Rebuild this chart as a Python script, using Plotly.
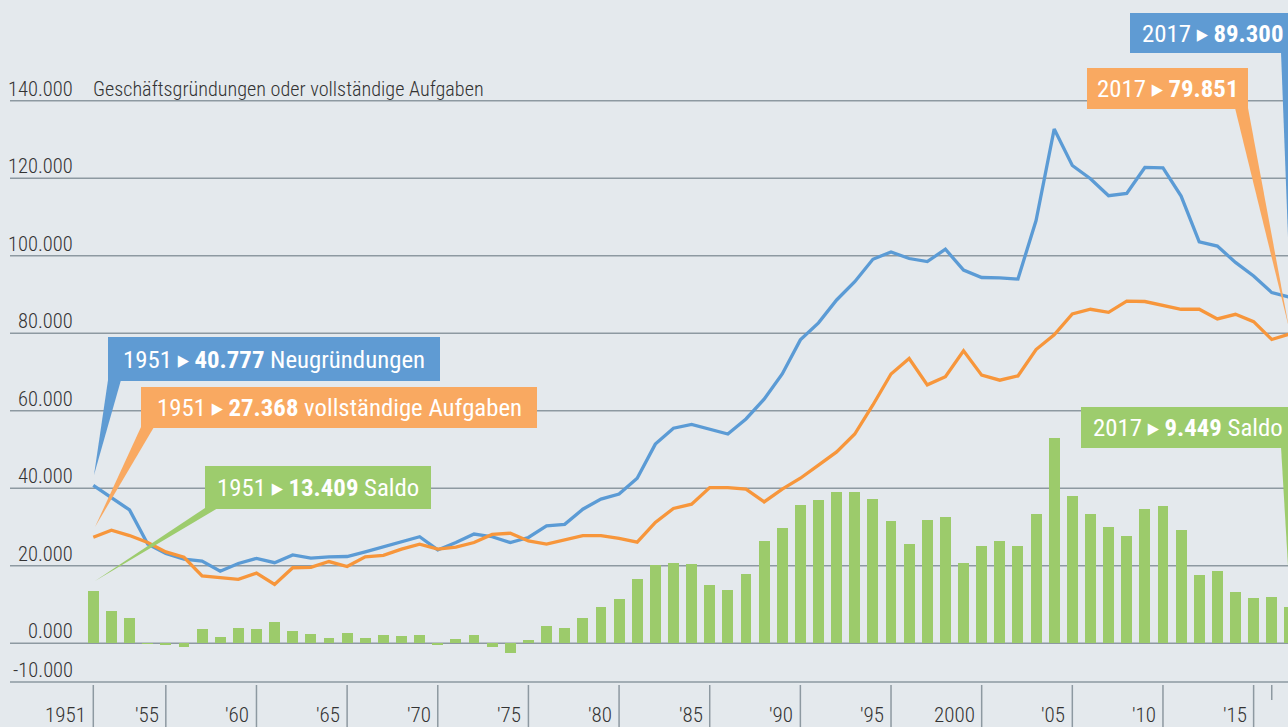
import plotly.graph_objects as go

# ---------------- data ----------------
years = list(range(1951, 2018))

neugruendungen = [
    40777, 37700, 34400, 25600, 23200, 21700, 21200, 18600, 20600, 21900,
    20800, 22800, 22000, 22300, 22400, 23600, 24900, 26300, 27500, 24100,
    26000, 28200, 27500, 26000, 27300, 30300, 30700, 34600, 37200, 38500,
    42600, 51400, 55500, 56500, 55300, 54000, 57900, 63000, 69500, 78300,
    82700, 88600, 93300, 99100, 101000, 99300, 98500, 101700, 96300, 94400,
    94300, 94000, 109100, 132700, 123300, 119900, 115500, 116100, 122800, 122700,
    115400, 103600, 102500, 98300, 94800, 90500, 89300,
]

aufgaben = [
    27368, 29200, 27800, 26000, 23600, 22200, 17400, 16900, 16500, 18100,
    15200, 19500, 19600, 21100, 19800, 22300, 22700, 24300, 25600, 24300,
    24800, 26000, 28100, 28400, 26400, 25600, 26800, 27800, 27800, 27100,
    26100, 31200, 34800, 35900, 40200, 40200, 39800, 36500, 39800, 42600,
    46000, 49400, 54000, 61500, 69500, 73500, 66700, 68800, 75500, 69200,
    67900, 69000, 75800, 79600, 85000, 86200, 85400, 88300, 88200, 87300,
    86200, 86200, 83700, 84900, 83000, 78400, 79851,
]

saldo = [
    13409, 8300, 6500, -100, -400, -900, 3700, 1600, 4000, 3700,
    5500, 3200, 2400, 1400, 2700, 1400, 2200, 1900, 2200, -300,
    1100, 2200, -900, -2400, 900, 4500, 4000, 6500, 9400, 11400,
    16600, 20200, 20700, 20500, 15100, 13800, 17900, 26400, 29800, 35700,
    37000, 39000, 39000, 37200, 31600, 25600, 31800, 32600, 20700, 25100,
    26400, 25100, 33400, 53000, 38000, 33400, 30000, 27700, 34700, 35400,
    29200, 17600, 18700, 13200, 11700, 12000, 9449,
]

y_ticks = [140000, 120000, 100000, 80000, 60000, 40000, 20000, 0, -10000]
y_tick_labels = ["140.000", "120.000", "100.000", "80.000", "60.000",
                 "40.000", "20.000", "0.000", "-10.000"]
x_ticks = [1951, 1955, 1960, 1965, 1970, 1975, 1980, 1985, 1990, 1995,
           2000, 2005, 2010, 2015]
x_tick_labels = ["1951", "'55", "'60", "'65", "'70", "'75", "'80", "'85",
                 "'90", "'95", "2000", "'05", "'10", "'15"]
minor_tick = [2016]

# ---------------- styling ----------------
W, H = 1288, 727
BG = "#E4E9ED"
GRID = "#8D99A1"
BLUE = "#5B9BD5"
ORANGE = "#F7963B"
GREEN = "#9CCB6B"
BLUE_BOX = "#5F9BD3"
ORANGE_BOX = "#F9A961"
GREEN_BOX = "#9DCC6D"
TXT = "#333333"
FONT = "Roboto Condensed, Liberation Sans Narrow, DejaVu Sans Condensed, Arial Narrow, Roboto, sans-serif"

# pixel <-> data helpers (layout only)
X0, DX = 93.3, 18.13
Y0, DY = 643.3, 0.003875


def xd(px):
    return 1951 + (px - X0) / DX


def yd(py):
    return (Y0 - py) / DY


fig = go.Figure()

fig.add_trace(go.Bar(x=years, y=saldo, marker=dict(color=GREEN, line=dict(width=0)),
                     width=0.6, name="Saldo", hoverinfo="x+y"))
fig.add_trace(go.Scatter(x=years, y=neugruendungen, mode="lines",
                         line=dict(color=BLUE, width=3.3), name="Neugründungen"))
fig.add_trace(go.Scatter(x=years, y=aufgaben, mode="lines",
                         line=dict(color=ORANGE, width=3.3), name="vollständige Aufgaben"))

shapes = []
annotations = []

# gridlines and y labels
for v, lab in zip(y_ticks, y_tick_labels):
    shapes.append(dict(type="line", xref="paper", yref="y", x0=10 / W, x1=1,
                       y0=v, y1=v, line=dict(color=GRID, width=1.5), layer="below"))
    annotations.append(dict(xref="paper", yref="y", x=75 / W, y=v, text=lab,
                            xanchor="right", yanchor="bottom", yshift=-2, showarrow=False,
                            font=dict(family=FONT, size=20.5, color=TXT, weight=300)))

annotations.append(dict(xref="paper", yref="y", x=91 / W, y=y_ticks[0],
                        text="Geschäftsgründungen oder vollständige Aufgaben",
                        xanchor="left", yanchor="bottom", yshift=-2, showarrow=False,
                        font=dict(family=FONT, size=20.2, color=TXT, weight=300)))

# x ticks and labels
for yr, lab in zip(x_ticks, x_tick_labels):
    shapes.append(dict(type="line", xref="x", yref="paper", x0=yr, x1=yr,
                       y0=1 - 685 / H, y1=0, line=dict(color=GRID, width=1.5)))
    annotations.append(dict(xref="x", yref="paper", x=yr, y=1 - 715 / H, text=lab,
                            xanchor="right", yanchor="middle", xshift=-5, showarrow=False,
                            font=dict(family=FONT, size=21, color=TXT, weight=300)))
for yr in minor_tick:
    shapes.append(dict(type="line", xref="x", yref="paper", x0=yr, x1=yr,
                       y0=1 - 685 / H, y1=1 - 700 / H, line=dict(color=GRID, width=1.5)))


def callout(box, wedge, color, text, cx):
    bx0, by0, bx1, by1 = box
    shapes.append(dict(type="rect", xref="x", yref="y", x0=xd(bx0), x1=xd(bx1),
                       y0=yd(by0), y1=yd(by1), fillcolor=color, line=dict(width=0),
                       layer="above"))
    p = " L ".join(f"{xd(a):.4f},{yd(b):.2f}" for a, b in wedge)
    shapes.append(dict(type="path", xref="x", yref="y", path=f"M {p} Z",
                       fillcolor=color, line=dict(width=0), layer="above"))
    annotations.append(dict(xref="x", yref="y", x=xd(cx), y=yd((by0 + by1) / 2),
                            text=text, xanchor="center", yanchor="middle",
                            showarrow=False,
                            font=dict(family=FONT, size=24.8, color="white")))


ARW = "▸"
callout((108, 337, 440, 381), [(108, 380), (121, 380), (94, 475)], BLUE_BOX,
        f"1951 {ARW} <b>40.777</b> Neugründungen", 274)
callout((141, 387, 537, 428), [(141, 427), (154, 427), (95, 527)], ORANGE_BOX,
        f"1951 {ARW} <b>27.368</b> vollständige Aufgaben", 339)
callout((205, 466, 431, 509), [(205, 508), (218, 508), (95, 581)], GREEN_BOX,
        f"1951 {ARW} <b>13.409</b> Saldo", 318)
callout((1130, 13, 1300, 53), [(1281, 52), (1294, 52), (1290, 290)], BLUE_BOX,
        f"2017 {ARW} <b>89.300</b>", 1212)
callout((1087, 68, 1248, 109), [(1235, 108), (1248, 108), (1289, 328)], ORANGE_BOX,
        f"2017 {ARW} <b>79.851</b>", 1167)
callout((1081, 407, 1300, 448), [(1281, 447), (1294, 447), (1290, 600)], GREEN_BOX,
        f"2017 {ARW} <b>9.449</b> Saldo", 1188)

fig.update_layout(
    width=W, height=H, autosize=False,
    margin=dict(l=0, r=0, t=0, b=0, pad=0),
    paper_bgcolor=BG, plot_bgcolor=BG,
    showlegend=False, bargap=0,
    xaxis=dict(range=[xd(0), xd(W)], visible=False, fixedrange=True),
    yaxis=dict(range=[yd(H), yd(0)], visible=False, fixedrange=True),
    shapes=shapes, annotations=annotations,
    font=dict(family=FONT, color=TXT),
)

fig.write_html(
    "out.html",
    config={"displayModeBar": False},
    post_script="document.body.style.margin='0';document.body.style.overflow='hidden';"
                "document.body.style.background='" + BG + "';",
)
